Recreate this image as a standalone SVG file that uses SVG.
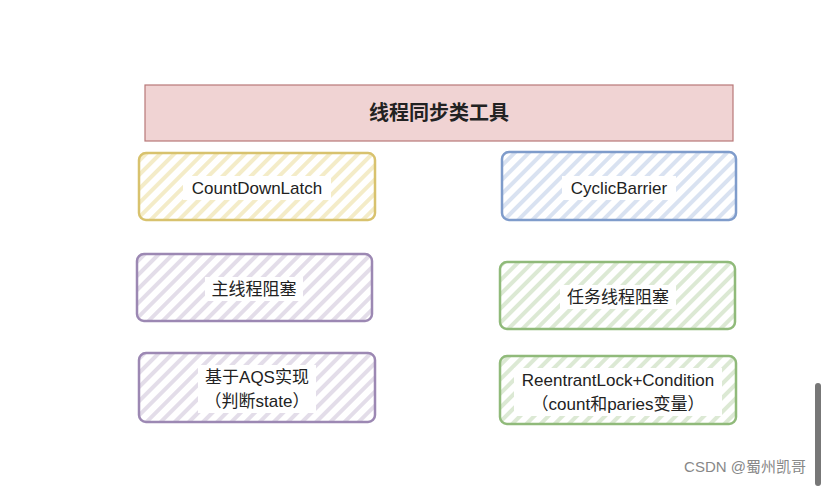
<svg xmlns="http://www.w3.org/2000/svg" width="828" height="486" viewBox="0 0 828 486">
<style>
text{font-family:"Liberation Sans","Noto Sans CJK SC",sans-serif;font-size:17px;fill:#222;text-anchor:middle}
.b{stroke-width:2.5}
.lb{fill:#fff}
</style>
<defs>
<pattern id="hy" width="10" height="10" patternUnits="userSpaceOnUse" patternTransform="rotate(45)"><rect width="10" height="10" fill="#fff"/><rect width="4" height="10" fill="#f4ecc8"/></pattern>
<pattern id="hb" width="10" height="10" patternUnits="userSpaceOnUse" patternTransform="rotate(45)"><rect width="10" height="10" fill="#fff"/><rect width="4" height="10" fill="#d9e2f1"/></pattern>
<pattern id="hp" width="10" height="10" patternUnits="userSpaceOnUse" patternTransform="rotate(45)"><rect width="10" height="10" fill="#fff"/><rect width="4" height="10" fill="#e3dde9"/></pattern>
<pattern id="hg" width="10" height="10" patternUnits="userSpaceOnUse" patternTransform="rotate(45)"><rect width="10" height="10" fill="#fff"/><rect width="4" height="10" fill="#dce9d4"/></pattern>
</defs>
<rect width="828" height="486" fill="#fff"/>
<g id="title"><rect x="145" y="85" width="588" height="56" fill="#f0d3d3" stroke="#b87878" stroke-width="1.2"/><text x="439" y="120" style="font-size:20px;font-weight:bold">线程同步类工具</text></g>
<g id="cdl"><rect class="b" x="139" y="153" width="236" height="67" rx="7" fill="url(#hy)" stroke="#d8c26e"/><rect class="lb" x="183" y="176" width="148" height="24"/><text x="257" y="194">CountDownLatch</text></g>
<g id="cb"><rect class="b" x="502" y="152" width="234" height="68" rx="7" fill="url(#hb)" stroke="#7f9ccb"/><rect class="lb" x="562" y="176" width="114" height="24"/><text x="619" y="194">CyclicBarrier</text></g>
<g id="main"><rect class="b" x="137" y="254" width="235" height="67" rx="7" fill="url(#hp)" stroke="#9c88b3"/><rect class="lb" x="205" y="277" width="98" height="24"/><text x="254" y="295">主线程阻塞</text></g>
<g id="task"><rect class="b" x="500" y="262" width="235" height="67" rx="7" fill="url(#hg)" stroke="#90ba7a"/><rect class="lb" x="560" y="285" width="116" height="24"/><text x="618" y="303">任务线程阻塞</text></g>
<g id="aqs"><rect class="b" x="139" y="353" width="236" height="69" rx="7" fill="url(#hp)" stroke="#9c88b3"/><rect class="lb" x="198" y="365" width="118" height="48"/><text x="257" y="383">基于AQS实现</text><text x="257" y="407">（判断state）</text></g>
<g id="rl"><rect class="b" x="500" y="356" width="236" height="68" rx="7" fill="url(#hg)" stroke="#90ba7a"/><rect class="lb" x="514" y="368" width="208" height="48"/><text x="618" y="386">ReentrantLock+Condition</text><text x="618" y="410">（count和paries变量）</text></g>
<g id="connectors"/>
<text x="745" y="472" style="font-size:15px;fill:#888">CSDN @蜀州凯哥</text>
<rect x="815" y="383" width="6" height="103" rx="3" fill="#777"/>
</svg>
